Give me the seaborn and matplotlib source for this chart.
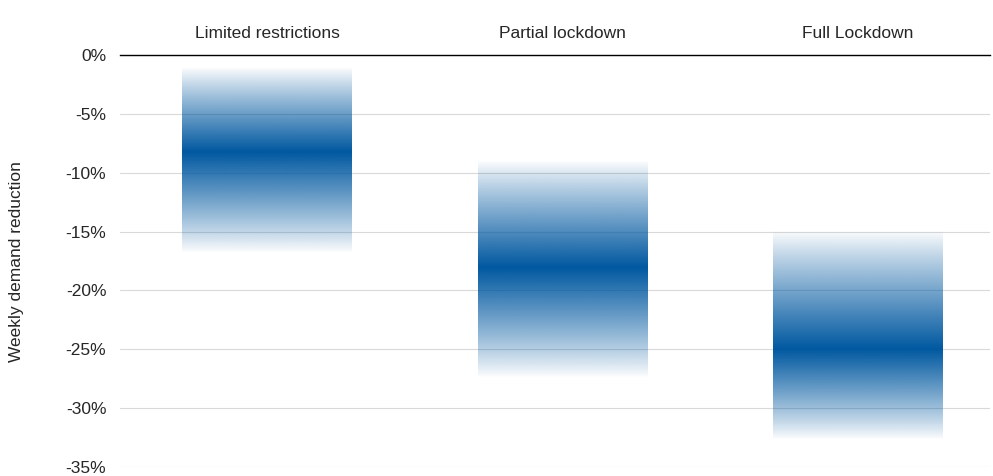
import numpy as np
import matplotlib
matplotlib.use("Agg")
import matplotlib.pyplot as plt
import seaborn as sns
from matplotlib.colors import to_rgb

sns.set_style("white")
plt.rcParams['font.family'] = ['Liberation Sans', 'DejaVu Sans']

# data (percent change in weekly demand)
categories = ['Limited restrictions', 'Partial lockdown', 'Full Lockdown']
range_top = [-1.0, -8.9, -14.9]
range_bottom = [-16.8, -27.4, -32.7]
central = [-8.2, -18.0, -25.0]

fig = plt.figure(figsize=(9.93, 4.76), dpi=100)
ax = fig.add_axes([0.121, 0.019, 0.876, 0.865])

rgb = to_rgb('#0058a0')
bar_w = 0.575
for i, (top, bot, mid) in enumerate(zip(range_top, range_bottom, central)):
    ys = np.linspace(top, bot, 300)
    d = np.where(ys > mid, (ys - mid) / (top - mid), (mid - ys) / (mid - bot))
    alpha = np.clip(1 - d, 0, 1) ** 0.9
    img = np.zeros((300, 2, 4))
    img[..., :3] = rgb
    img[..., 3] = alpha[:, None]
    ax.imshow(img, extent=[i - bar_w / 2, i + bar_w / 2, bot, top],
              aspect='auto', interpolation='bilinear', zorder=3, origin='upper')

ax.set_xlim(-0.497, 2.447)
ax.set_ylim(-35, 0)
ax.set_yticks(np.arange(-35, 1, 5))
ax.set_yticklabels([f'{v}%' for v in range(-35, 1, 5)], fontsize=12.5)
ax.set_xticks(range(3))
ax.set_xticklabels(categories, fontsize=12.5)
ax.xaxis.tick_top()
ax.tick_params(length=0, pad=10)
ax.yaxis.grid(True, color='#d9d9d9', linewidth=0.8)
for s in ['left', 'right', 'bottom']:
    ax.spines[s].set_visible(False)
ax.spines['top'].set_color('black')
ax.spines['top'].set_linewidth(1)
ax.set_ylabel('Weekly demand reduction', fontsize=12.5, labelpad=30)

fig.savefig('out.png', dpi=100)
